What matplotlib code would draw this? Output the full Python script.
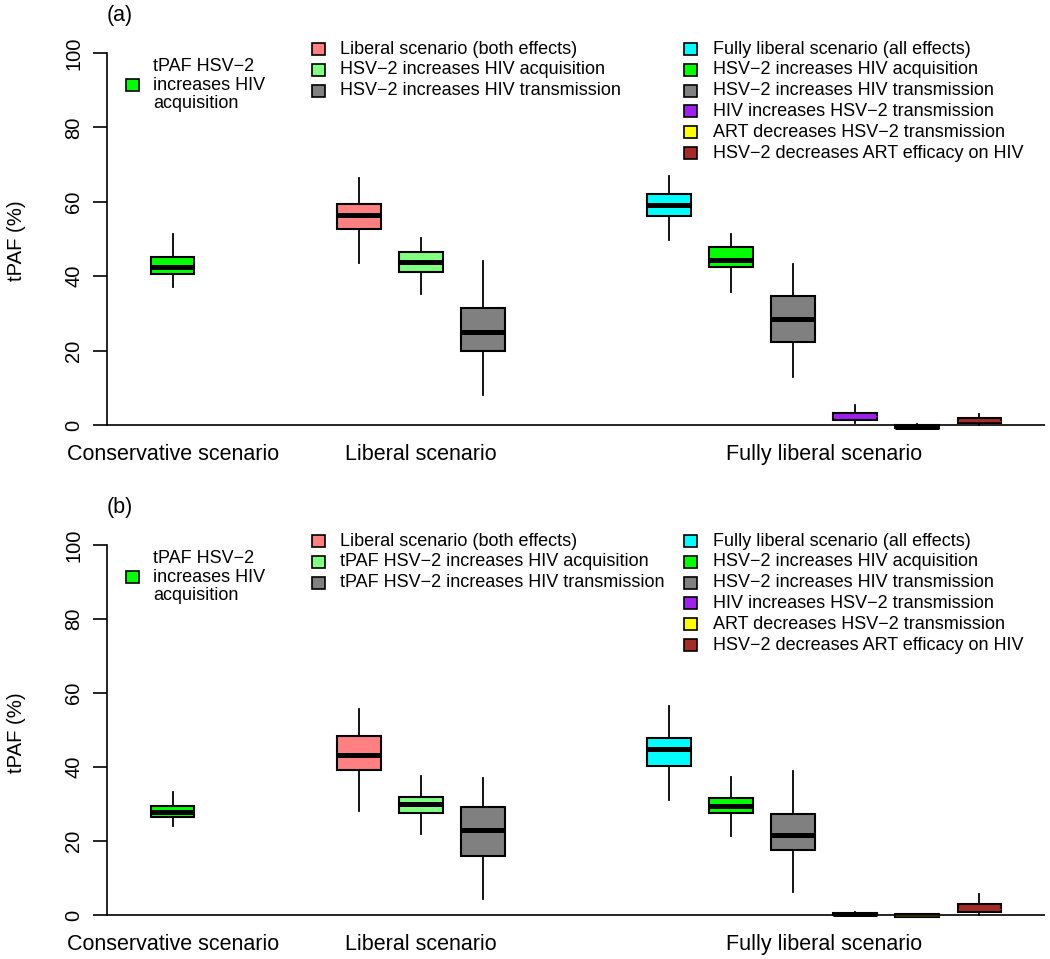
import numpy as np
import matplotlib.pyplot as plt
from matplotlib.patches import Rectangle

plt.rcParams['font.family'] = ['Liberation Sans', 'DejaVu Sans']

# box positions and fill colours (conservative | liberal | fully liberal)
positions = [1, 4, 5, 6, 9, 10, 11, 12, 13, 14]
colors = ['#00FF00', '#FF8080', '#80FF80', '#808080', '#00FFFF',
          '#00FF00', '#808080', '#A020F0', '#FFFF00', '#A52A2A']

# panel (a): whisker low, Q1, median, Q3, whisker high  (tPAF %)
a_lo = [37.2, 43.5, 35.1, 8.1, 49.7, 35.7, 12.8, 0.7, -1.1, 0.0]
a_q1 = [40.5, 52.8, 41.2, 20.0, 56.2, 42.4, 22.2, 1.5, -0.9, 0.5]
a_med = [42.6, 56.4, 43.7, 24.9, 59.1, 44.4, 28.5, 2.4, -0.5, 1.2]
a_q3 = [45.2, 59.5, 46.6, 31.5, 62.0, 47.9, 34.8, 3.3, 0.1, 2.0]
a_hi = [51.3, 66.3, 50.2, 44.1, 67.0, 51.3, 43.3, 5.3, 0.2, 2.9]

# panel (b)
b_lo = [24.0, 28.1, 22.0, 4.4, 31.0, 21.5, 6.2, 0.0, -0.5, 0.0]
b_q1 = [26.4, 39.3, 27.6, 15.9, 40.2, 27.6, 17.5, 0.0, -0.5, 0.8]
b_med = [27.9, 43.2, 30.1, 22.9, 44.9, 29.6, 21.6, 0.2, 0.0, 1.6]
b_q3 = [29.6, 48.3, 31.9, 29.2, 47.9, 31.7, 27.4, 0.5, 0.3, 2.9]
b_hi = [33.3, 55.7, 37.7, 37.1, 56.6, 37.3, 39.0, 0.8, 0.4, 5.6]

scen_pos = [1, 5, 11.5]
scen_labels = ['Conservative scenario', 'Liberal scenario', 'Fully liberal scenario']

leg1_labels = ['tPAF HSV\u22122\nincreases HIV\nacquisition']
leg2_labels_a = ['Liberal scenario (both effects)',
                 'HSV\u22122 increases HIV acquisition',
                 'HSV\u22122 increases HIV transmission']
leg2_labels_b = ['Liberal scenario (both effects)',
                 'tPAF HSV\u22122 increases HIV acquisition',
                 'tPAF HSV\u22122 increases HIV transmission']
leg3_labels = ['Fully liberal scenario (all effects)',
               'HSV\u22122 increases HIV acquisition',
               'HSV\u22122 increases HIV transmission',
               'HIV increases HSV\u22122 transmission',
               'ART decreases HSV\u22122 transmission',
               'HSV\u22122 decreases ART efficacy on HIV']

# median line colour: the tiny boxes show no black median in the original
med_a = ['black'] * 7 + [colors[7], 'black', colors[9]]
med_b = ['black'] * 8 + [colors[8], colors[9]]

W, H = 1050, 959
fig = plt.figure(figsize=(W / 100, H / 100), dpi=100)


def px(x, y):
    return x / W, 1 - y / H


def legend(x_box, x_text, y0, labels, cols, dy=20.8, ls=1.15):
    for i, (lab, c) in enumerate(zip(labels, cols)):
        y = y0 + i * dy
        fig.add_artist(Rectangle(px(x_box - 6.5, y + 6), 13 / W, 12 / H,
                                 transform=fig.transFigure, facecolor=c,
                                 edgecolor='black', lw=1.2))
        fig.text(*px(x_text, y), lab, ha='left', va='center', fontsize=13,
                 linespacing=ls)


panels = [
    ('(a)', 0, 38, 402, (a_lo, a_q1, a_med, a_q3, a_hi), leg2_labels_a, med_a),
    ('(b)', 492, 530, 400, (b_lo, b_q1, b_med, b_q3, b_hi), leg2_labels_b, med_b),
]

for tag, off, top, hgt, st, leg2, medc in panels:
    ax = fig.add_axes([107 / W, 1 - (top + hgt) / H, 938 / W, hgt / H])
    lo, q1, med, q3, hi = st
    stats = [dict(whislo=a, q1=b, med=c, q3=d, whishi=e)
             for a, b, c, d, e in zip(lo, q1, med, q3, hi)]
    bp = ax.bxp(stats, positions=positions, widths=0.7, patch_artist=True,
                showcaps=False, showfliers=False,
                boxprops=dict(linewidth=1.5, edgecolor='black'),
                whiskerprops=dict(linewidth=1.3, color='black', linestyle='-'),
                medianprops=dict(linewidth=3.6, color='black', solid_capstyle='butt'))
    for patch, c in zip(bp['boxes'], colors):
        patch.set_facecolor(c)
    for line, c in zip(bp['medians'], medc):
        line.set_color(c)
        if c != 'black':
            line.set_linewidth(1.0)
    ax.axhline(0, color='black', lw=1.2, zorder=3)

    ax.set_xlim(-0.06, 15.06)
    ax.set_ylim(-4, 104)
    for s in ['top', 'right', 'bottom']:
        ax.spines[s].set_visible(False)
    ax.spines['left'].set_bounds(0, 100)
    ax.spines['left'].set_linewidth(1.2)
    ax.set_yticks(range(0, 101, 20))
    ax.set_yticklabels([str(v) for v in range(0, 101, 20)], rotation=90, va='center')
    ax.tick_params(axis='y', length=10, width=1.2, pad=7, labelsize=14.5)
    ax.set_xticks([])
    for xp, lab in zip(scen_pos, scen_labels):
        ax.text(xp, -20 / hgt, lab, transform=ax.get_xaxis_transform(),
                ha='center', va='baseline', fontsize=15.5)

    fig.text(*px(17, 241 + off), 'tPAF (%)', rotation=90, ha='center',
             va='center', fontsize=14.6)
    fig.text(*px(120, 16 + off), tag, ha='center', va='center', fontsize=15.5)

    legend(132, 153, 85 + off, leg1_labels, [colors[0]])
    legend(318, 340, 49 + off, leg2, colors[1:4])
    legend(690, 713, 49 + off, leg3_labels, colors[4:])

fig.savefig('out.png', dpi=100)
